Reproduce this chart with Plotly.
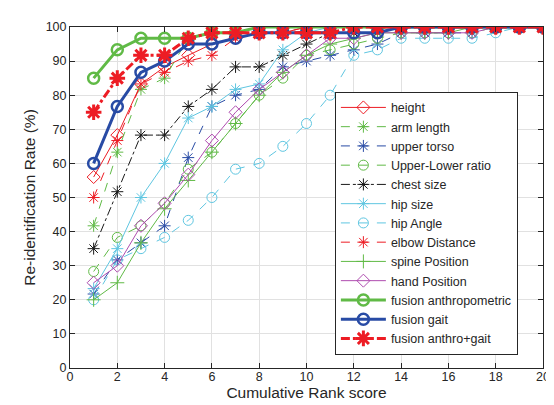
import plotly.graph_objects as go

ranks = list(range(1, 21))

height = [56.0, 68.3, 83.3, 88.3, 91.7, 95.0, 96.7, 98.3, 98.3, 100, 100, 100, 100, 100, 100, 100, 100, 100, 100, 100]
arm_length = [41.7, 63.3, 81.7, 85.0, 96.7, 98.3, 98.3, 100, 100, 100, 100, 100, 100, 100, 100, 100, 100, 100, 100, 100]
upper_torso = [21.7, 31.7, 36.7, 41.7, 61.7, 76.7, 80.0, 81.7, 88.3, 90.0, 91.7, 93.3, 95.0, 98.3, 98.3, 98.3, 98.3, 100, 100, 100]
upper_lower = [28.3, 38.3, 41.7, 48.3, 58.3, 63.3, 71.7, 80.0, 85.0, 91.7, 93.3, 95.0, 96.7, 98.3, 98.3, 98.3, 98.3, 100, 100, 100]
chest_size = [35.0, 51.7, 68.3, 68.3, 76.7, 81.7, 88.3, 88.3, 91.7, 95.0, 98.3, 98.3, 98.3, 100, 100, 100, 100, 100, 100, 100]
hip_size = [23.3, 35.0, 50.0, 60.0, 73.3, 76.7, 81.7, 83.3, 93.3, 98.3, 100, 100, 100, 100, 100, 100, 100, 100, 100, 100]
hip_angle = [20.0, 31.7, 35.0, 38.3, 43.3, 50.0, 58.3, 60.0, 65.0, 71.7, 80.0, 91.7, 93.3, 96.7, 96.7, 96.7, 96.7, 98.3, 100, 100]
elbow_distance = [50.0, 66.7, 83.3, 86.7, 90.0, 91.7, 96.7, 98.3, 98.3, 100, 100, 100, 100, 100, 100, 100, 100, 100, 100, 100]
spine_position = [20.0, 25.0, 36.7, 46.7, 55.0, 63.3, 71.7, 80.0, 86.7, 91.7, 95.0, 96.7, 98.3, 98.3, 98.3, 98.3, 100, 100, 100, 100]
hand_position = [25.0, 30.0, 41.7, 48.3, 56.7, 66.7, 75.0, 81.7, 86.7, 91.7, 96.7, 96.7, 98.3, 98.3, 98.3, 98.3, 98.3, 100, 100, 100]
fusion_anthro = [85.0, 93.3, 96.7, 96.7, 96.7, 98.3, 98.3, 100, 100, 100, 100, 100, 100, 100, 100, 100, 100, 100, 100, 100]
fusion_gait = [60.0, 76.7, 86.7, 90.0, 95.0, 95.0, 96.7, 98.3, 98.3, 98.3, 98.3, 98.3, 98.3, 100, 100, 100, 100, 100, 100, 100]
fusion_both = [75.0, 85.0, 91.7, 91.7, 96.7, 98.3, 98.3, 98.3, 98.3, 98.3, 98.3, 100, 100, 100, 100, 100, 100, 100, 100, 100]

x_ticks = list(range(0, 21, 2))
y_ticks = list(range(0, 101, 10))

RED = "rgb(237,28,36)"
GREEN = "rgb(96,186,70)"
BLUE = "rgb(40,75,165)"
CYAN = "rgb(95,198,225)"
MAGENTA = "rgb(175,75,175)"
BLACK = "rgb(25,25,25)"

series = [
    ("height", height, RED, "solid", 1, "diamond-open", 10, 1),
    ("arm length", arm_length, GREEN, "dash", 1, "asterisk-open", 10, 1),
    ("upper torso", upper_torso, BLUE, "dash", 1, "asterisk-open", 10, 1),
    ("Upper-Lower ratio", upper_lower, GREEN, "dash", 1, "circle-open", 10, 1),
    ("chest size", chest_size, BLACK, "dashdot", 1, "asterisk-open", 10, 1),
    ("hip size", hip_size, CYAN, "solid", 1, "asterisk-open", 10, 1),
    ("hip Angle", hip_angle, CYAN, "dash", 1, "circle-open", 10, 1),
    ("elbow Distance", elbow_distance, RED, "dash", 1, "asterisk-open", 10, 1),
    ("spine Position", spine_position, GREEN, "solid", 1, "cross-thin-open", 10, 1),
    ("hand Position", hand_position, MAGENTA, "solid", 1, "diamond-open", 10, 1),
    ("fusion anthropometric", fusion_anthro, GREEN, "solid", 3, "circle-open", 11, 2.5),
    ("fusion gait", fusion_gait, BLUE, "solid", 3, "circle-open", 11, 2.5),
    ("fusion anthro+gait", fusion_both, RED, "dashdot", 3, "asterisk-open", 13, 3),
]

fig = go.Figure()
for name, vals, color, dash, lw, sym, msize, mlw in series:
    fig.add_trace(go.Scatter(
        x=ranks, y=vals, name=name, mode="lines+markers",
        line=dict(color=color, dash=dash, width=lw),
        marker=dict(symbol=sym, size=msize, color=color, line=dict(color=color, width=mlw)),
    ))

axis_common = dict(
    showline=True, linecolor="rgb(38,38,38)", linewidth=1, mirror="ticks",
    ticks="inside", ticklen=5, tickcolor="rgb(38,38,38)",
    showgrid=True, gridcolor="rgb(225,225,225)", gridwidth=1,
    zeroline=False, tickfont=dict(size=12.5, color="rgb(38,38,38)"),
)

fig.update_layout(
    width=554, height=405,
    margin=dict(l=62, r=15, t=13, b=45),
    paper_bgcolor="white", plot_bgcolor="white",
    font=dict(family="Liberation Sans, Arial, sans-serif", color="rgb(38,38,38)"),
    xaxis=dict(range=[0, 20], tickvals=x_ticks, ticktext=[str(v) for v in x_ticks],
               title=dict(text="Cumulative Rank score", font=dict(size=15.5), standoff=2),
               ticklabelstandoff=-3,
               **axis_common),
    yaxis=dict(range=[0, 100], tickvals=y_ticks, ticktext=[str(v) for v in y_ticks],
               title=dict(text="Re-identification Rate (%)", font=dict(size=15.5), standoff=6),
               **axis_common),
    legend=dict(x=0.56, y=0.81, xanchor="left", yanchor="top",
                bgcolor="white", bordercolor="rgb(38,38,38)", borderwidth=1,
                font=dict(size=12.5), itemwidth=45, tracegroupgap=0),
    showlegend=True,
)

fig.write_html("out.html")
